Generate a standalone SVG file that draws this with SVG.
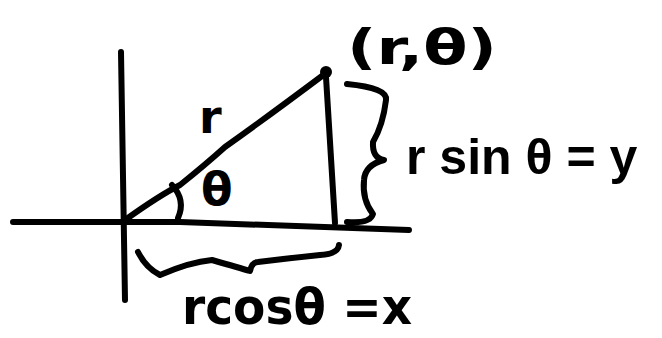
<svg xmlns="http://www.w3.org/2000/svg" width="662" height="338" viewBox="0 0 662 338">
<style>
.ink{fill:none;stroke:#000;stroke-width:6;stroke-linecap:round;stroke-linejoin:round}
.lbl{font-family:"DejaVu Sans","Liberation Sans",sans-serif;font-weight:bold;fill:#000}
.lbl2{font-family:"Liberation Sans",Arial,sans-serif;font-weight:bold;fill:#000}
</style>
<rect width="662" height="338" fill="#fff"/>
<g id="axes">
<path class="ink" d="M121,52 Q123,180 125,300"/>
<path class="ink" d="M13,222 L180,222 Q300,226 409,230"/>
</g>
<g id="connectors">
<path id="hyp" class="ink" d="M125,220 Q160,195 180,185 Q205,165 225,147 Q270,115 326,73"/>
<path id="vert" class="ink" d="M326,77 L335,223"/>
<path id="arc" class="ink" d="M172,185 Q186,200 178,218"/>
<path id="brace-right" class="ink" d="M347,84 Q388,88 386,100 Q383,125 373,142 Q372,158 384,160 Q365,165 364,180 Q362,200 373,214 Q370,224 347,222"/>
<path id="brace-bottom" class="ink" d="M138,252 Q146,268 160,275 Q190,262 212,260 Q240,268 250,271 Q252,262 258,262 Q290,258 320,255 Q338,254 339,245"/>
</g>
<g id="point">
<circle cx="326" cy="72" r="6" fill="#000"/>
<text class="lbl" x="347" y="64" font-size="48" textLength="150" lengthAdjust="spacingAndGlyphs">(r,θ)</text>
</g>
<g id="label-r"><text class="lbl" x="199" y="133" font-size="46">r</text></g>
<g id="label-theta"><text class="lbl" x="201" y="205" font-size="46">θ</text></g>
<g id="label-y"><text class="lbl2" x="406" y="174" font-size="50">r sin θ = y</text></g>
<g id="label-x"><text class="lbl" x="182" y="324" font-size="50" textLength="230" lengthAdjust="spacingAndGlyphs">rcosθ =x</text></g>
</svg>
